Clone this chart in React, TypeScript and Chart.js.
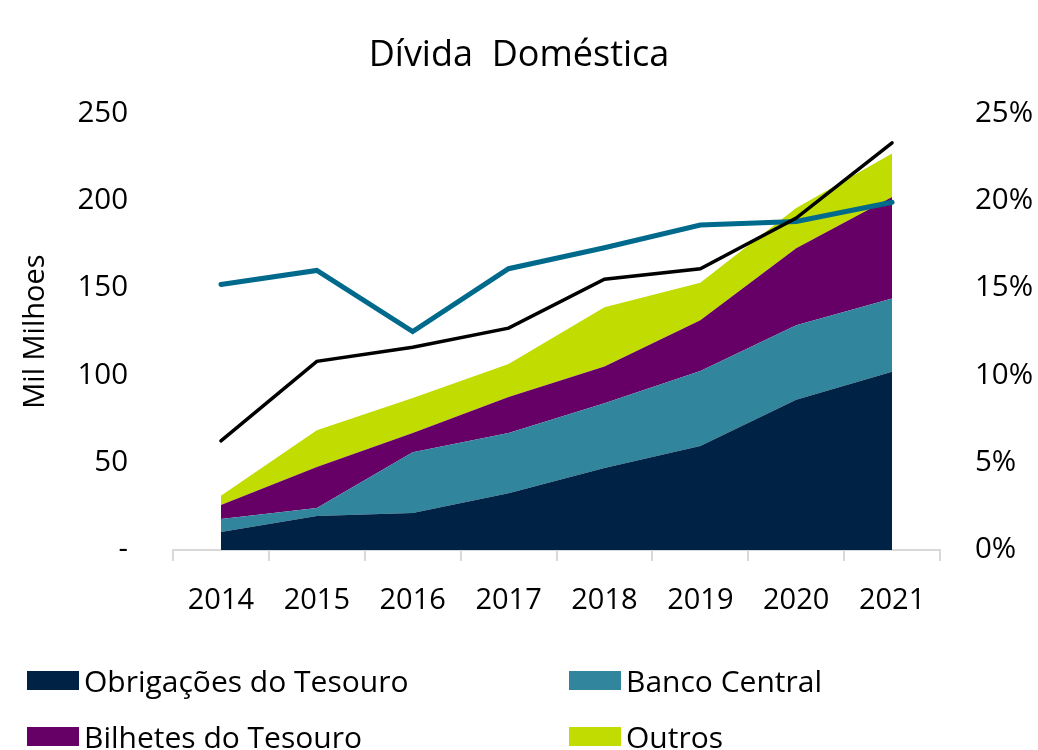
import React, { useEffect, useRef } from "react";
import { Chart, registerables } from "chart.js";

Chart.register(...registerables);

const years = ["2014", "2015", "2016", "2017", "2018", "2019", "2020", "2021"];
const obrigacoes = [10.3, 19.5, 21.2, 32.5, 47, 59.5, 86, 102];
const bancoCentral = [7.4, 4.5, 34.8, 34.5, 37, 43, 42.7, 42];
const bilhetes = [8, 23.5, 11, 20.5, 21, 29, 44, 58];
const outros = [5.3, 21, 20, 19, 34, 21.5, 23, 25];
const totalLine = [62.5, 108, 116, 127, 155, 161, 190, 233];
const pctLine = [15.2, 16.0, 12.5, 16.1, 17.3, 18.6, 18.8, 19.9];

const FONT = "'Open Sans', sans-serif";

const legendItems = [
  { label: "Obrigações do Tesouro", color: "#002244", x: 27, y: 671 },
  { label: "Banco Central", color: "#31859C", x: 569, y: 671 },
  { label: "Bilhetes do Tesouro", color: "#660066", x: 27, y: 727 },
  { label: "Outros", color: "#C1DC00", x: 569, y: 727 },
];

export default function App() {
  const ref = useRef<HTMLCanvasElement>(null);
  useEffect(() => {
    const ctx = ref.current!;
    const area = (label: string, data: number[], color: string, fill: any) => ({
      type: "line" as const,
      label,
      data,
      backgroundColor: color,
      borderColor: color,
      borderWidth: 0,
      pointRadius: 0,
      fill,
      stack: "areas",
      yAxisID: "y",
      order: 2,
      tension: 0,
    });
    const chart = new Chart(ctx, {
      type: "line",
      data: {
        labels: years,
        datasets: [
          area("Obrigações do Tesouro", obrigacoes, "#002244", "origin"),
          area("Banco Central", bancoCentral, "#31859C", "-1"),
          area("Bilhetes do Tesouro", bilhetes, "#660066", "-1"),
          area("Outros", outros, "#C1DC00", "-1"),
          {
            type: "line",
            label: "Total",
            data: totalLine,
            borderColor: "#000000",
            borderWidth: 3.5,
            pointRadius: 0,
            fill: false,
            stack: "total",
            yAxisID: "y",
            order: 0,
            borderCapStyle: "round",
          },
          {
            type: "line",
            label: "%",
            data: pctLine,
            borderColor: "#006A8C",
            borderWidth: 5,
            pointRadius: 0,
            fill: false,
            yAxisID: "y2",
            order: 0,
            borderCapStyle: "round",
          },
        ],
      },
      options: {
        responsive: false,
        animation: false,
        layout: { padding: { top: 0, left: 0, right: 0, bottom: 0 } },
        plugins: {
          legend: { display: false },
          tooltip: { enabled: false },
          title: {
            display: true,
            text: "Dívida  Doméstica",
            color: "#000",
            font: { family: FONT, size: 36, weight: "normal", lineHeight: 1.2 },
            padding: { top: 34, bottom: 36 },
          },
        },
        scales: {
          x: {
            offset: true,
            grid: {
              display: true,
              drawOnChartArea: false,
              drawTicks: true,
              tickLength: 11,
              color: "#D9D9D9",
              lineWidth: 2,
              offset: true,
            },
            border: { display: true, color: "#D9D9D9", width: 2 },
            ticks: {
              color: "#000",
              font: { family: FONT, size: 29 },
              padding: 22,
              maxRotation: 0,
            },
            afterFit: (s: any) => {
              s.height = 200;
            },
          },
          y: {
            position: "left",
            stacked: true,
            min: 0,
            max: 250,
            grid: { display: false, drawTicks: false },
            border: { display: false },
            ticks: {
              stepSize: 50,
              color: "#000",
              font: { family: FONT, size: 29.5 },
              padding: 45,
              callback: (v: any) => (v === 0 ? "-" : String(v)),
            },
            title: {
              display: true,
              text: "Mil Milhoes",
              color: "#000",
              font: { family: FONT, size: 29 },
              padding: { top: 18, bottom: 0 },
            },
            afterFit: (s: any) => {
              s.width = 173;
            },
          },
          y2: {
            position: "right",
            stacked: false,
            min: 0,
            max: 25,
            grid: { display: false, drawTicks: false },
            border: { display: false },
            ticks: {
              stepSize: 5,
              color: "#000",
              font: { family: FONT, size: 29.5 },
              padding: 35,
              callback: (v: any) => v + "%",
            },
            afterFit: (s: any) => {
              s.width = 98;
            },
          },
        },
      },
    } as any);
    return () => chart.destroy();
  }, []);

  return (
    <div style={{ position: "fixed", left: 0, top: 0, width: 1038, height: 750, background: "#fff" }}>
      <canvas ref={ref} width={1038} height={750} style={{ display: "block" }} />
      {legendItems.map((it) => (
        <div key={it.label}>
          <div
            style={{
              position: "absolute",
              left: it.x,
              top: it.y,
              width: 52,
              height: 19,
              background: it.color,
            }}
          />
          <div
            style={{
              position: "absolute",
              left: it.x + 57,
              top: it.y + 10 - 20,
              height: 40,
              lineHeight: "40px",
              fontFamily: FONT,
              fontSize: 30,
              color: "#000",
              whiteSpace: "nowrap",
            }}
          >
            {it.label}
          </div>
        </div>
      ))}
    </div>
  );
}
